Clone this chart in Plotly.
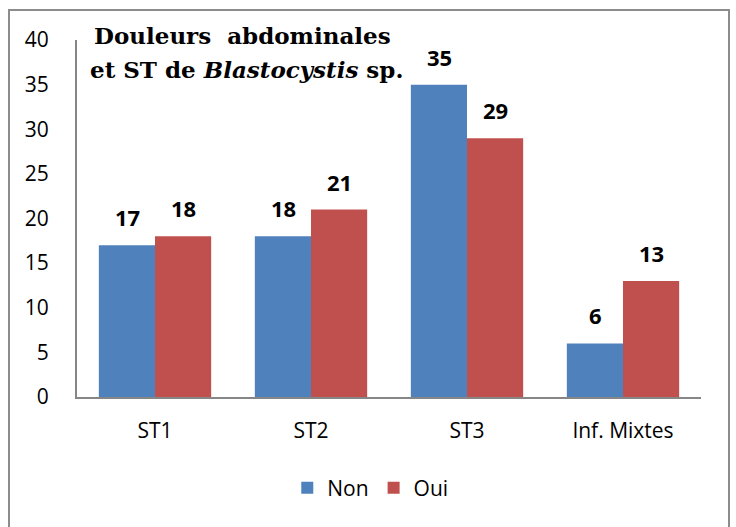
import plotly.graph_objects as go

categories = ["ST1", "ST2", "ST3", "Inf. Mixtes"]
non_values = [17, 18, 35, 6]
oui_values = [18, 21, 29, 13]
y_ticks = [0, 5, 10, 15, 20, 25, 30, 35, 40]

BLUE = "#4F81BD"
RED = "#C0504D"
FONT = "'Open Sans', Lato, sans-serif"
SERIF = "'DejaVu Serif', 'Liberation Serif', serif"

fig = go.Figure()
series = [("Non", non_values, BLUE, -28), ("Oui", oui_values, RED, 28)]
for name, vals, col, shift in series:
    fig.add_trace(go.Bar(
        name=name, x=categories, y=vals, marker_color=col,
        marker_line_width=0,
    ))
    for c, v in zip(categories, vals):
        fig.add_annotation(
            x=c, y=v, xref="x", yref="y", xshift=shift, yshift=11,
            yanchor="bottom", xanchor="center", showarrow=False,
            text=f"<b>{v}</b>",
            font=dict(family=FONT, size=22, color="black"),
        )

fig.update_layout(
    width=736, height=527,
    margin=dict(l=77, r=35, t=40, b=130),
    paper_bgcolor="white", plot_bgcolor="white",
    barmode="group", bargap=0.28, bargroupgap=0,
    font=dict(family=FONT, size=21, color="black"),
    showlegend=True,
    legend=dict(orientation="h", x=0.47, xanchor="center", y=-0.255, yanchor="middle",
                font=dict(family=FONT, size=21), itemwidth=30, traceorder="normal"),
)
fig.update_xaxes(showline=True, linecolor="#868686", linewidth=2, ticks="",
                 ticklabelstandoff=14,
                 tickfont=dict(family=FONT, size=21), showgrid=False)
fig.update_yaxes(range=[0, 40], tickvals=y_ticks, showline=True, linecolor="#868686",
                 linewidth=2, showgrid=False, zeroline=False, ticks="",
                 ticklabelstandoff=22,
                 tickfont=dict(family=FONT, size=21))

fig.add_annotation(
    xref="paper", yref="paper", x=(92-77)/624, y=(397-35)/357, xanchor="left", yanchor="middle",
    showarrow=False, align="left",
    text="<b>Douleurs  abdominales</b>",
    font=dict(family=SERIF, size=23, color="black"),
)
fig.add_annotation(
    xref="paper", yref="paper", x=(88-77)/624, y=(397-69)/357, xanchor="left", yanchor="middle",
    showarrow=False, align="left",
    text="<b>et ST de <i>Blastocystis</i> sp.</b>",
    font=dict(family=SERIF, size=23, color="black"),
)

fig.add_shape(type="rect", xref="paper", yref="paper",
              x0=(9-77)/624, x1=(729-77)/624, y0=-(560-397)/357, y1=(397-10)/357,
              line=dict(color="#8C8C8C", width=2), fillcolor="rgba(0,0,0,0)", layer="below")

fig.write_html("out.html", config={"displayModeBar": False},
               post_script="document.body.style.margin='0';")
